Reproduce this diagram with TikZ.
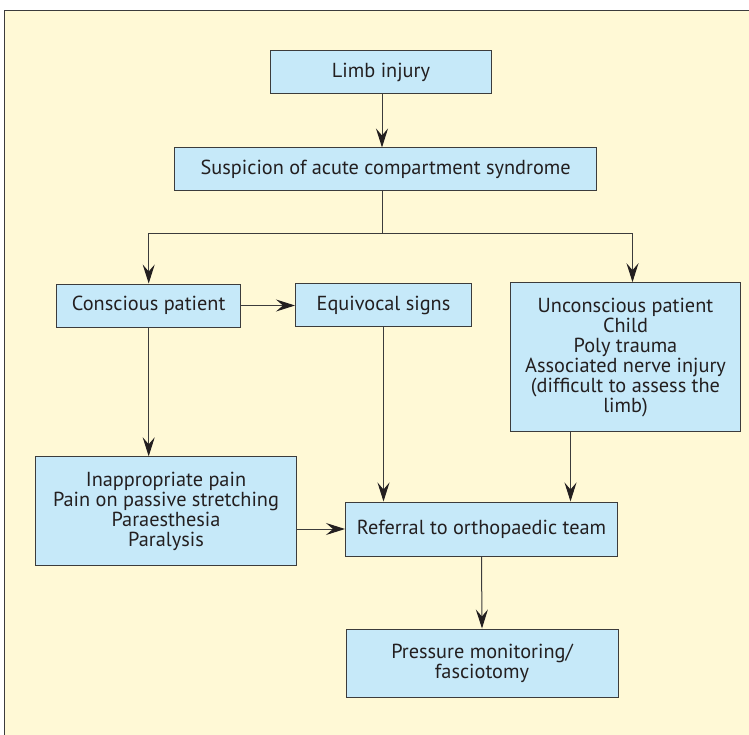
\documentclass[tikz,border=0pt]{standalone}
\usepackage{fontspec}
\setmainfont{PT Sans}
\usetikzlibrary{arrows.meta}
\definecolor{panelyellow}{HTML}{FFF9D6}
\definecolor{boxblue}{HTML}{C6E9F9}
\definecolor{linegray}{HTML}{3C3C3C}
\definecolor{inkdark}{HTML}{231F20}
\begin{document}
\begin{tikzpicture}[x=1pt, y=-1pt,
    box/.style={draw=linegray, fill=boxblue, line width=1pt, inner sep=0pt, align=center,
      font=\fontsize{20.3}{20}\selectfont, text=inkdark},
    link/.style={linegray, line width=1pt},
    >={Stealth[length=19pt, width=12pt, inset=7pt, color=inkdark]}]
    % Draw panel
    \useasboundingbox (0,0) rectangle (749,735);
    \fill[panelyellow] (4.5,10.5) rectangle (749,735);
    \draw[linegray, line width=1pt] (4.5,735) -- (4.5,10.5) -- (749,10.5);

    % Draw boxes
    \node[box, minimum width=221pt, minimum height=43pt] (limb) at (381,72) {Limb injury};
    \node[box, minimum width=422pt, minimum height=43pt] (susp) at (385.7,169.5) {Suspicion of acute compartment syndrome};
    \node[box, minimum width=184pt, minimum height=43pt] (consc) at (148.7,305.5) {Conscious patient};
    \node[box, minimum width=176pt, minimum height=43pt] (equiv) at (383.5,305) {Equivocal signs};
    \node[box, minimum width=230pt, minimum height=149pt] (uncon) at (625.5,357.2)
      {Unconscious patient\\ Child\\ Poly trauma\\ Associated nerve injury\\ (difficult to assess the\\ limb)};
    \node[box, minimum width=261pt, minimum height=109pt] (signs) at (166,511.3)
      {Inappropriate pain\\ Pain on passive stretching\\ Paraesthesia\\ Paralysis};
    \node[box, minimum width=272pt, minimum height=54pt] (refer) at (481.5,529) {Referral to orthopaedic team};
    \node[box, minimum width=272pt, minimum height=68pt] (press) at (482,663) {Pressure monitoring/\\ fasciotomy};

    % Draw helper points
    \coordinate (split) at (382,233.3);
    \path (uncon.north) ++(7,0) coordinate (u0);
    \path (uncon.south) ++(-55,0) coordinate (u1);

    % Draw arrows
    \draw[link, ->] (limb.south -| split) -- (susp.north -| split);
    \draw[link] (susp.south -| split) -- (split);
    \draw[link, ->] (split) -| (consc.north);
    \draw[link, ->] (split) -| (u0);
    \draw[link, ->] (consc.east) -- (equiv.west |- consc.east);
    \draw[link, ->] (consc.south) -- (consc.south |- signs.north);
    \draw[link, ->] (equiv.south) -- (equiv.south |- refer.north);
    \draw[link, ->] (u1) -- (u1 |- refer.north);
    \draw[link, ->] (signs.east |- refer.west) -- (refer.west);
    \draw[link, ->] (refer.south) -- (press.north);
\end{tikzpicture}
\end{document}
